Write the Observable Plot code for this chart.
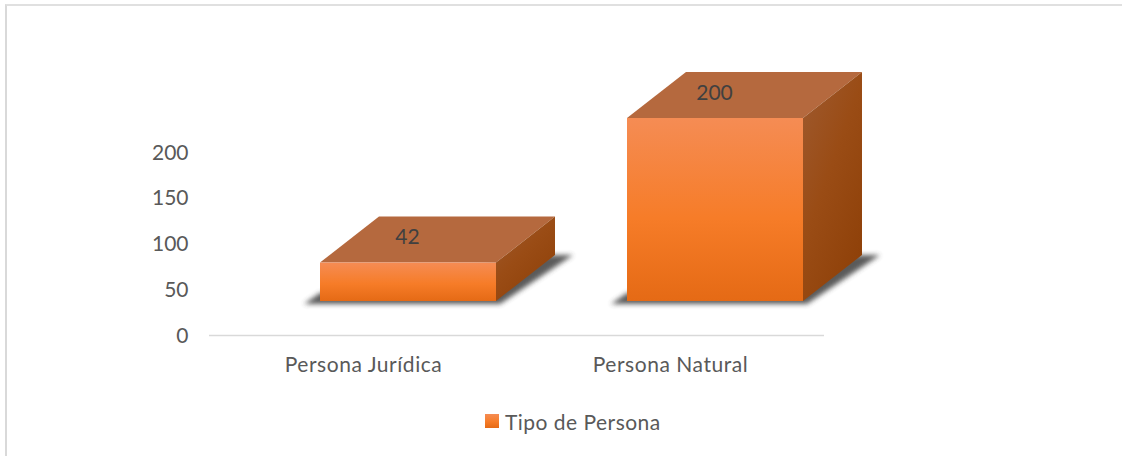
<!DOCTYPE html>
<html>
<head>
<meta charset="utf-8">
<script src="https://cdn.jsdelivr.net/npm/d3@7"></script>
<script src="https://cdn.jsdelivr.net/npm/@observablehq/plot@0.6"></script>
<style>
  html, body { margin: 0; padding: 0; background: #fff; }
  #chart { position: relative; width: 1122px; height: 456px; overflow: hidden; font-family: Lato, sans-serif; }
  #frame { position: absolute; left: 5px; top: 4px; width: 1200px; height: 600px; border-left: 2px solid #d9d9d9; border-top: 2px solid #e0e0e0; }
  #plot { position: absolute; left: 0; top: 0; }
  #plot svg { overflow: visible; background: none; }
  #plot g[aria-label="x-axis tick label"] text { letter-spacing: 0.55px; }
  #legend { position: absolute; left: 485px; top: 407px; display: flex; align-items: center; gap: 6px; font-size: 21px; letter-spacing: 0.48px; color: #595959; height: 28px; }
  #legend i { display: block; width: 14px; height: 14px; background: linear-gradient(#f58c54, #f67c28 55%, #e56a15); }
</style>
</head>
<body>
<div id="chart">
  <div id="frame"></div>
  <div id="plot"></div>
  <div id="legend"><i></i><span>Tipo de Persona</span></div>
</div>
<script>
const categories = ["Persona Jurídica", "Persona Natural"];
const values = [42, 200];
const yTicks = [0, 50, 100, 150, 200];
const seriesName = "Tipo de Persona";

const rows = categories.map((c, i) => ({tipo: c, n: values[i]}));

// Pseudo-3D look: the box stands back from the floor line, and has a depth.
const liftX = 45, liftY = -34, depthX = 59, depthY = -46;

function defs() {
  const s = d3.create("svg:g");
  const d = s.append("defs");
  const grad = (id, x2, y2, stops) => {
    const g = d.append("linearGradient").attr("id", id).attr("x1", 0).attr("y1", 0).attr("x2", x2).attr("y2", y2);
    stops.forEach(([o, c]) => g.append("stop").attr("offset", o).attr("stop-color", c));
  };
  grad("front", 0, 1, [[0, "#f58c54"], [0.55, "#f67c28"], [1, "#e56a15"]]);
  grad("side", 0.7, 1, [[0, "#9e5a30"], [0.5, "#9a4c15"], [1, "#8f4109"]]);
  d.append("filter").attr("id", "soft").attr("x", "-20%").attr("y", "-20%").attr("width", "140%").attr("height", "140%")
    .append("feGaussianBlur").attr("stdDeviation", 2.6);
  return s.node();
}

function poly(g, pts, attrs) {
  const p = g.append("polygon").attr("points", pts.map(q => q.join(",")).join(" "));
  Object.entries(attrs).forEach(([k, v]) => p.attr(k, v));
}

function shadows(index, scales) {
  const g = d3.create("svg:g");
  for (const r of rows) {
    const x0 = scales.x(r.tipo) + liftX, x1 = x0 + scales.x.bandwidth(), b = scales.y(0) + liftY;
    poly(g, [[x0 - 16, b + 3], [x0, b - 8], [x1 + depthX - 4, b + depthY], [x1 + depthX + 18, b + depthY], [x1 + 4, b + 3]],
      {fill: "#4a4a4a", opacity: 0.9, filter: "url(#soft)"});
  }
  return g.node();
}

function faces(index, scales) {
  const g = d3.create("svg:g");
  for (const r of rows) {
    const x0 = scales.x(r.tipo) + liftX, x1 = x0 + scales.x.bandwidth();
    const b = scales.y(0) + liftY, t = scales.y(r.n) + liftY;
    poly(g, [[x0, t], [x1, t], [x1 + depthX, t + depthY], [x0 + depthX, t + depthY]], {fill: "#b5693e"});
    poly(g, [[x1, t], [x1 + depthX, t + depthY], [x1 + depthX, b + depthY], [x1, b]], {fill: "url(#side)"});
  }
  return g.node();
}

const chart = Plot.plot({
  width: 1122,
  height: 400,
  marginLeft: 209,
  marginRight: 298,
  marginTop: 0,
  marginBottom: 65,
  style: {fontFamily: "Lato, sans-serif"},
  x: {type: "band", domain: categories, range: [209, 824], paddingInner: 0.4276, paddingOuter: 0.2138},
  y: {domain: [0, 200], range: [335, 152]},
  marks: [
    defs,
    Plot.axisY({ticks: yTicks, tickSize: 0, tickPadding: 21, fontSize: 21, fill: "#595959", label: null, dy: 0.5}),
    Plot.axisX({tickSize: 0, tickPadding: 22, fontSize: 21, fill: "#595959", label: null}),
    Plot.ruleY([0], {stroke: "#d9d9d9", strokeWidth: 1.5}),
    shadows,
    faces,
    Plot.barY(rows, {x: "tipo", y: "n", dx: liftX, dy: liftY, fill: "url(#front)", title: d => seriesName}),
    Plot.text(rows, {x: "tipo", y: "n", text: d => String(d.n), dx: liftX - 1, dy: liftY - 25.5, fontSize: 21, fill: "#404040"})
  ]
});
document.getElementById("plot").append(chart);
</script>
</body>
</html>
